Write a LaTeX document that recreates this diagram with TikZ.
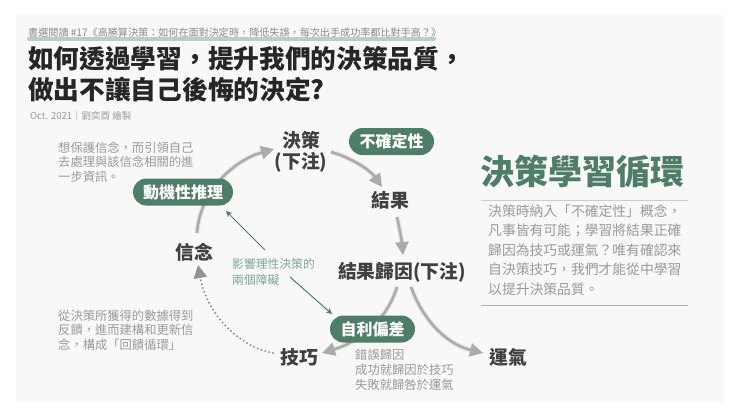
\documentclass[tikz,border=0pt]{standalone}
\usepackage{fontspec}
\setmainfont[Script=CJK,Language=Chinese Traditional]{Noto Sans CJK TC}
\newfontfamily\heavyfont[Script=CJK,Language=Chinese Traditional]{Noto Sans CJK TC Black}
\usetikzlibrary{arrows.meta}
\definecolor{deepgreen}{HTML}{4E7D68}
\definecolor{softgreen}{HTML}{7FA593}
\definecolor{markgreen}{HTML}{B5D0C5}
\definecolor{panelgray}{HTML}{F8F8F8}
\definecolor{inkgray}{HTML}{404040}
\definecolor{notegray}{HTML}{9A9A9A}
\definecolor{loopgray}{HTML}{ABABAB}
\tikzset{
    term/.style={text=inkgray,inner sep=2pt,align=center,font=\fontsize{18.8}{21.5}\selectfont\bfseries},
    pill/.style={fill=deepgreen,text=white,rounded corners=13.5pt,minimum height=27pt,inner sep=0pt,font=\fontsize{16}{18}\selectfont\bfseries},
    note/.style={text=notegray,inner sep=0pt,align=left,font=\fontsize{12.3}{14.7}\selectfont},
    loopline/.style={draw=loopgray,line width=2.6pt,-{Triangle[length=13pt,width=13pt]},
        preaction={draw=black,draw opacity=.07,line width=5pt,-{Triangle[length=13pt,width=13pt]}}},
    barrierline/.style={draw=deepgreen,line width=1pt,-{Stealth[length=6pt,width=6pt]}}
}
\begin{document}
\begin{tikzpicture}[x=1pt,y=-1pt]
    \useasboundingbox (0,0) rectangle (740,416);
    \fill[panelgray] (16,15) rectangle (724,402);

    % header
    \draw[markgreen,line width=4pt,line cap=round] (29,38.5) -- (434,38.5);
    \node[inner sep=0pt,anchor=west,text=notegray!90!black,font=\fontsize{10.1}{12}\selectfont] (subtitle) at (28,33) {書選閱讀 \#17《高勝算決策：如何在面對決定時，降低失誤，每次出手成功率都比對手高？》};
    \node[inner sep=0pt,anchor=north west,align=left,text=black!85,font=\fontsize{25.7}{31}\selectfont\heavyfont] (headline) at (28,46) {如何透過學習，提升我們的決策品質，\\做出不讓自己後悔的決定?};
    \node[inner sep=0pt,anchor=west,text=notegray,font=\fontsize{9.5}{11}\selectfont] (credit) at (30,116) {Oct. 2021｜劉奕酉 繪製};

    % loop terms
    \node[term] (decide) at (301,152) {決策\\(下注)};
    \node[term] (result) at (390,200) {結果};
    \node[term] (attrib) at (402,272) {結果歸因(下注)};
    \node[term] (belief) at (194,252) {信念};
    \node[term] (skill) at (299,357) {技巧};
    \node[term] (luck) at (508,357) {運氣};

    % loop arrows
    \draw[loopline] ([shift={(3,-19)}]belief.center) .. controls (200,190) and (235,160) .. ([shift={(-27,-3)}]decide.center);
    \draw[loopline] ([shift={(30,0)}]decide.center) .. controls (352,158) and (370,170) .. ([shift={(-8,-13)}]result.center);
    \draw[loopline] ([shift={(7,17)}]result.center) .. controls (400,230) and (402,243) .. ([shift={(1,-17)}]attrib.center);
    \draw[loopline] ([shift={(-5,15)}]attrib.center) .. controls (385,325) and (355,343) .. ([shift={(23,-4)}]skill.center);
    \draw[loopline] ([shift={(9,15)}]attrib.center) .. controls (425,325) and (450,345) .. ([shift={(-25,-4)}]luck.center);
    \draw[loopgray!85!black,line width=2.2pt,line cap=round,dash pattern=on 0pt off 4pt,-{Triangle[length=13pt,width=13pt,sep=0pt]}] ([shift={(-26,-4)}]skill.center) .. controls (240,347) and (207,315) .. ([shift={(4,13)}]belief.center);

    % pills sit over the arrows
    \node[pill,minimum width=85pt] (chance) at (391.5,141.5) {不確定性};
    \node[pill,minimum width=100pt] (motive) at (183,192) {動機性推理};
    \node[pill,minimum width=85pt] (selfbias) at (372.5,329) {自利偏差};

    % barriers
    \node[inner sep=0pt,align=left,text=softgreen,font=\fontsize{11.8}{15.5}\selectfont] (barrier) at (273.5,272) {影響理性決策的\\兩個障礙};
    \draw[barrierline] ([shift={(-8.5,-22)}]barrier.center) -- ([shift={(43,19)}]motive.center);
    \draw[barrierline] ([shift={(16.5,5)}]barrier.center) -- ([shift={(-40.5,-15)}]selfbias.center);

    % notes
    \node[note,anchor=north west] (notebelief) at (58,141.5) {想保護信念，而引領自己\\去處理與該信念相關的進\\一步資訊。};
    \node[note,anchor=north west] (notefeedback) at (58,309.5) {從決策所獲得的數據得到\\反饋，進而建構和更新信\\念，構成「回饋循環」};
    \node[note,anchor=north west] (notebias) at (355,349) {錯誤歸因\\成功就歸因於技巧\\失敗就歸咎於運氣};

    % right column
    \node[inner sep=0pt,anchor=west,text=deepgreen,font=\fontsize{34}{36}\selectfont\heavyfont] (looptitle) at (480,171) {決策學習循環};
    \node[inner sep=0pt,anchor=north west,align=left,text=notegray,font=\fontsize{13.8}{19.4}\selectfont] (loopnote) at (488,204.5) {決策時納入「不確定性」概念，\\凡事皆有可能；學習將結果正確\\歸因為技巧或運氣？唯有確認來\\自決策技巧，我們才能從中學習\\以提升決策品質。};
    \coordinate (ruleleft) at (481,200);
    \coordinate (ruleright) at (688,200);
    \draw[black!20,line width=1pt] (ruleleft) -- (ruleright);
    \draw[markgreen!70!gray,line width=.8pt] (ruleleft |- 0,305) -- (ruleright |- 0,305);
\end{tikzpicture}
\end{document}
